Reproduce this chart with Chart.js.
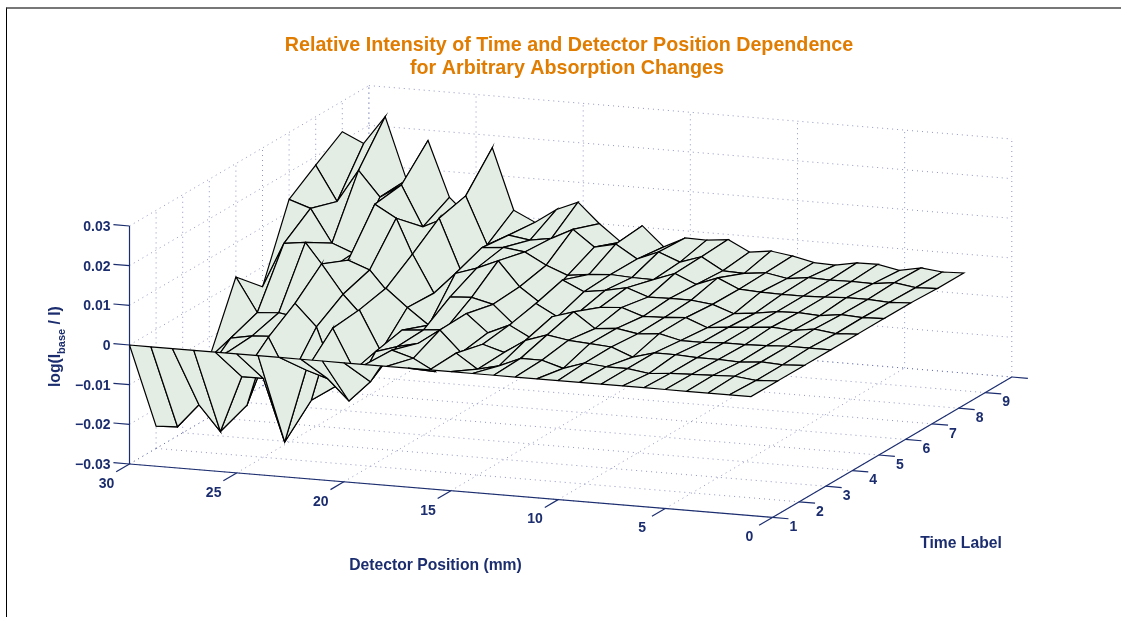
<!DOCTYPE html>
<html lang="en">
<head>
  <meta charset="UTF-8">
  <title>Relative Intensity of Time and Detector Position Dependence</title>
  <script src="https://cdn.jsdelivr.net/npm/chart.js"></script>
  <style>
    html, body { margin: 0; background: #fff; overflow: hidden; }
    #wrap { position: relative; width: 1121px; height: 617px; }
    canvas { position: absolute; left: 0; top: 0; }
    #frame { position: absolute; left: 6px; top: 7px; right: 0; bottom: 0; border-left: 1px solid #000; border-top: 2px solid #777; }
  </style>
</head>
<body>
  <div id="wrap">
    <canvas id="surfaceChart" width="1121" height="617"></canvas>
    <div id="frame"></div>
  </div>

  <script>
    // Axis ticks
    const detectorTicks = [30, 25, 20, 15, 10, 5, 0];
    const timeTicks = [1, 2, 3, 4, 5, 6, 7, 8, 9, 10];
    const timeLabels = ['1', '2', '3', '4', '5', '6', '7', '8', '9', ''];
    const intensityTicks = [-0.03, -0.02, -0.01, 0, 0.01, 0.02, 0.03];
    const intensityLabels = ['\u22120.03', '\u22120.02', '\u22120.01', '0', '0.01', '0.02', '0.03'];

    // Detector positions of the surface columns
    const detectorPositions = [30, 29, 28, 27, 26, 25, 24, 23, 22, 21, 20, 19, 18, 17, 16, 15, 14, 13, 12, 11, 10, 9, 8, 7, 6, 5, 4, 3, 2, 1];

    // log(Ibase / I) per time label
    const time1 = [0, 0, 0, 0, 0, 0, 0, 0, 0, 0, 0, 0, 0, 0, 0, 0, 0, 0, 0, 0, 0, 0, 0, 0, 0, 0, 0, 0, 0, 0];
    const time2 = [-0.0244, -0.0241, -0.0181, -0.0244, -0.0101, -0.0101, -0.0257, -0.0071, -0.0088, -0.0140, -0.0087, -0.0003, -0.0019, -0.0048, 0.0003, -0.0033, -0.0020, 0.0003, 0.0003, -0.0013, 0.0005, 0, 0, -0.0008, -0.0003, -0.0001, 0.0001, 0.0003, -0.0003, 0];
    const time3 = [-0.0176, -0.0151, -0.0091, -0.0217, -0.0041, -0.0142, -0.0191, -0.0005, -0.0106, -0.0055, -0.0038, -0.0025, 0.0013, -0.0040, -0.0014, -0.0030, 0.0005, 0.0023, 0.0014, 0.0010, 0.0006, -0.0015, 0, 0, -0.0003, -0.0003, -0.0005, 0, -0.0003, 0];
    const time4 = [-0.0151, -0.0096, -0.0086, -0.0083, 0.0005, -0.0050, -0.0192, 0.0002, -0.0098, -0.0040, -0.0035, -0.0030, 0.0015, -0.0029, -0.0005, -0.0033, 0.0025, 0.0042, 0.0004, 0.0009, 0, 0.0005, -0.0008, -0.0008, -0.0005, -0.0005, -0.0003, 0, 0, 0];
    const time5 = [0.0014, -0.0071, -0.0067, -0.0076, 0.0065, -0.0007, -0.0063, 0.0017, -0.0027, -0.0067, 0.0009, 0.0012, -0.0001, -0.0049, 0.0010, -0.0019, -0.0003, 0.0014, 0.0018, 0, 0.0002, 0.0006, -0.0015, -0.0009, -0.0005, 0, -0.0004, 0.0004, -0.0003, 0];
    const time6 = [-0.0050, 0.0064, 0.0071, 0.0004, 0.0035, 0.0015, -0.0046, 0.0064, -0.0030, 0.0024, 0.0042, 0.0065, 0.0004, -0.0034, 0.0030, 0.0005, 0.0013, 0.0024, 0.0005, 0.0006, 0.0006, 0, -0.0019, -0.0013, -0.0005, -0.0003, -0.0006, 0.0001, -0.0002, 0];
    const time7 = [0.0131, 0.0113, 0.0030, 0.0009, 0.0137, 0.0106, -0.0010, 0.0115, -0.0011, 0.0050, 0.0055, 0.0048, 0.0019, -0.0002, 0.0005, 0.0009, 0.0006, 0.0005, 0.0025, 0.0002, 0.0023, -0.0001, -0.0004, -0.0005, -0.0005, -0.0003, 0, 0, -0.0003, 0];
    const time8 = [0.0178, 0.0091, 0.0174, 0.0111, 0.0146, 0.0045, 0.0071, 0.0132, 0.0013, 0.0042, 0.0034, 0.0043, 0.0070, 0.0030, 0.0042, 0.0009, 0.0031, 0.0010, 0.0028, -0.0003, -0.0005, 0.0001, -0.0009, -0.0002, -0.0004, -0.0003, -0.0004, 0.0003, -0.0005, -0.0003];
    const time9 = [0.0223, 0.0198, 0.0270, 0.0115, 0.0219, 0.0080, 0.0030, 0.0214, 0.0061, 0.0035, 0.0072, 0.0095, 0.0045, 0.0003, 0.0049, 0, 0.0027, 0.0026, 0.0032, 0.0005, 0.0012, 0.0004, -0.0008, -0.0010, 0, 0.0001, -0.0010, 0.0001, -0.0005, -0.0003];
    const surfaceRows = [time1, time2, time3, time4, time5, time6, time7, time8, time9];

    const NAVY = '#1b2d6e';
    const GRID = 'rgba(70, 80, 150, 0.6)';

    // Fixed 3D view: detector, time and value to chart coordinates
    function project(detector, time, value) {
      return {
        x: 129.5 + (30 - detector) * 21.43 + (time - 1) * 26.6,
        y: 345 + (30 - detector) * 1.78 - (time - 1) * 15.6 - value * 3967
      };
    }

    const datasets = [];

    function addLine(from, to, color, dash, width) {
      datasets.push({
        data: [project(...from), project(...to)],
        showLine: true,
        borderColor: color,
        borderWidth: width,
        borderDash: dash,
        pointRadius: 0,
        fill: false
      });
    }

    // Chart.js paints the first dataset last, so the nearest quads go in first
    for (let r = 0; r < surfaceRows.length - 1; r++) {
      for (let c = detectorPositions.length - 2; c >= 0; c--) {
        const d0 = detectorPositions[c], d1 = detectorPositions[c + 1];
        datasets.push({
          data: [
            project(d0, r + 1, surfaceRows[r][c]),
            project(d1, r + 1, surfaceRows[r][c + 1]),
            project(d1, r + 2, surfaceRows[r + 1][c + 1]),
            project(d0, r + 2, surfaceRows[r + 1][c]),
            project(d0, r + 1, surfaceRows[r][c])
          ],
          showLine: true,
          borderColor: '#000',
          borderWidth: 1.2,
          backgroundColor: '#e3ede4',
          pointRadius: 0,
          fill: 'shape'
        });
      }
    }

    // Axes and ticks
    const zMin = intensityTicks[0], zMax = intensityTicks[intensityTicks.length - 1];
    addLine([30, 1, zMin], [30, 1, zMax], NAVY, [], 1.2);
    addLine([30, 1, zMin], [0, 1, zMin], NAVY, [], 1.2);
    addLine([0, 1, zMin], [0, 10, zMin], NAVY, [], 1.2);
    intensityTicks.forEach(z => addLine([30, 1, z], [30.75, 1, z], NAVY, [], 1.2));
    detectorTicks.forEach(d => addLine([d, 1, zMin], [d, 0.5, zMin], NAVY, [], 1.2));
    timeTicks.forEach(t => addLine([0, t, zMin], [-0.75, t, zMin], NAVY, [], 1.2));

    // Dotted box grid on the floor and the two back walls
    const dots = [1, 4];
    detectorTicks.forEach(d => {
      addLine([d, 1, zMin], [d, 10, zMin], GRID, dots, 1);
      addLine([d, 10, zMin], [d, 10, zMax], GRID, dots, 1);
    });
    timeTicks.forEach(t => {
      addLine([30, t, zMin], [0, t, zMin], GRID, dots, 1);
      addLine([30, t, zMin], [30, t, zMax], GRID, dots, 1);
    });
    intensityTicks.forEach(z => {
      addLine([30, 1, z], [30, 10, z], GRID, dots, 1);
      addLine([30, 10, z], [0, 10, z], GRID, dots, 1);
    });

    // Tick labels, axis titles and the heading sit on the same scales
    const textPlugin = {
      id: 'plotText',
      afterDraw(chart) {
        const { ctx, scales } = chart;
        const px = p => scales.x.getPixelForValue(p.x);
        const py = p => scales.y.getPixelForValue(p.y);
        const font = size => `bold ${size}px "Liberation Sans", Arial, sans-serif`;
        ctx.save();
        ctx.fillStyle = NAVY;
        ctx.textBaseline = 'middle';

        ctx.font = font(14);
        ctx.textAlign = 'right';
        intensityTicks.forEach((z, i) => {
          const p = project(30, 1, z);
          ctx.fillText(intensityLabels[i], px(p) - 19, py(p) + 1);
        });
        ctx.textAlign = 'center';
        detectorTicks.forEach(d => {
          const p = project(d, 1, zMin);
          ctx.fillText(String(d), px(p) - 23, py(p) + 20);
        });
        timeTicks.forEach((t, i) => {
          const p = project(0, t, zMin);
          ctx.fillText(timeLabels[i], px(p) + 21, py(p) + 10);
        });

        ctx.font = font(15.7);
        ctx.fillText('Detector Position (mm)', 435.5, 566);
        ctx.fillText('Time Label', 961, 544);

        ctx.save();
        ctx.translate(56, 333);
        ctx.rotate(-Math.PI / 2);
        ctx.textAlign = 'left';
        ctx.font = font(15.7);
        ctx.fillText('log(I', -54, 0);
        let w = ctx.measureText('log(I').width;
        ctx.font = font(11);
        ctx.fillText('base', -54 + w, 6);
        w += ctx.measureText('base').width;
        ctx.font = font(15.7);
        ctx.fillText(' / I)', -54 + w, 0);
        ctx.restore();

        ctx.fillStyle = '#e07c00';
        ctx.font = font(19.7);
        ctx.fillText('Relative Intensity of Time and Detector Position Dependence', 569, 46);
        ctx.fillText('for Arbitrary Absorption Changes', 567, 69);
        ctx.restore();
      }
    };

    new Chart(document.getElementById('surfaceChart').getContext('2d'), {
      type: 'scatter',
      data: { datasets },
      options: {
        responsive: false,
        animation: false,
        layout: { padding: 0 },
        plugins: { legend: { display: false }, tooltip: { enabled: false } },
        scales: {
          x: { type: 'linear', min: 0, max: 1121, display: false },
          y: { type: 'linear', min: 0, max: 617, reverse: true, display: false }
        }
      },
      plugins: [textPlugin]
    });
  </script>
</body>
</html>
